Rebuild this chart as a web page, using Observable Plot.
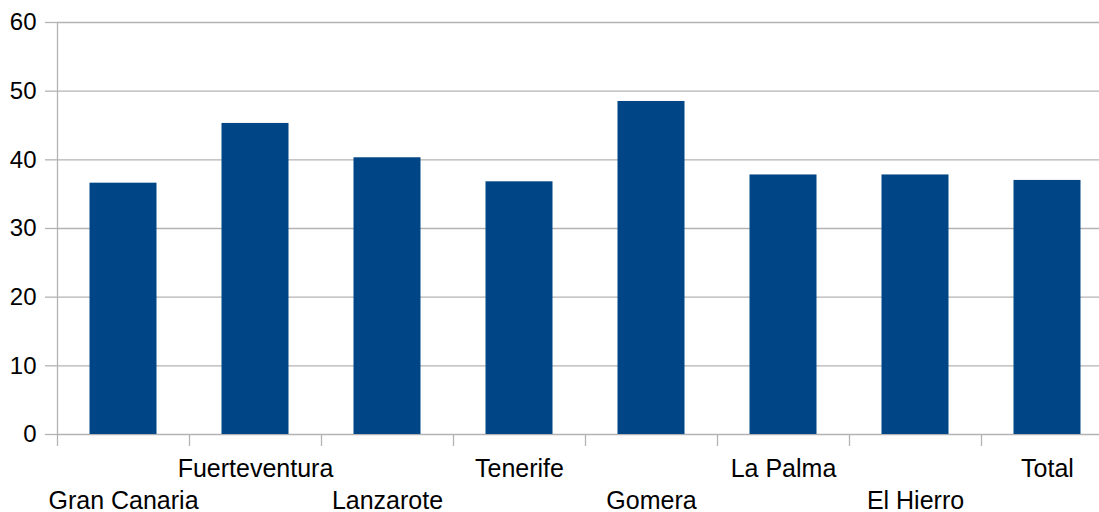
<!DOCTYPE html>
<html>
<head>
<meta charset="utf-8">
<script src="https://cdn.jsdelivr.net/npm/d3@7"></script>
<script src="https://cdn.jsdelivr.net/npm/@observablehq/plot@0.6"></script>
<style>
  html, body { margin: 0; padding: 0; background: #fff; }
  #chart svg { display: block; }
</style>
</head>
<body>
<div id="chart"></div>
<script>
const categories = ["Gran Canaria", "Fuerteventura", "Lanzarote", "Tenerife", "Gomera", "La Palma", "El Hierro", "Total"];
const values = [36.6, 45.3, 40.3, 36.8, 48.5, 37.8, 37.8, 37.0];
const yTicks = [0, 10, 20, 30, 40, 50, 60];

(function () {
  const data = categories.map((c, i) => ({category: c, value: values[i]}));

  const W = 1099, H = 512;
  const pLeft = 57, pRight = 1113, pTop = 22, pBottom = 434;
  const step = (pRight - pLeft) / categories.length;
  const barWidth = 67;
  const inset = (step - barWidth) / 2;
  const grid = "#b3b3b3";
  const font = "'Liberation Sans', Arial, sans-serif";

  const chart = Plot.plot({
    width: W,
    height: H,
    marginLeft: pLeft,
    marginRight: 0,
    marginTop: pTop,
    marginBottom: H - pBottom,
    style: {fontFamily: font, color: "#000", background: "#fff"},
    x: {type: "band", domain: categories, range: [pLeft, pRight], padding: 0},
    y: {domain: [0, 60], range: [pBottom, pTop]},
    marks: [
      Plot.gridY(yTicks, {stroke: grid, strokeOpacity: 1, strokeWidth: 1.3}),
      Plot.barY(data, {x: "category", y: "value", fill: "#004586", insetLeft: inset, insetRight: inset}),
      Plot.ruleX([categories[0]], {dx: -step / 2, y1: 0, y2: 60, stroke: grid, strokeWidth: 1.3}),
      Plot.axisY(yTicks, {tickSize: 12, tickPadding: 9, fontSize: 24, stroke: grid, strokeWidth: 1.3, fill: "#000", label: null}),
      Plot.axisX(categories, {tickSize: 12, tickFormat: () => "", dx: -step / 2, stroke: grid, strokeWidth: 1.3, label: null}),
      Plot.axisX(categories.filter((d, i) => i % 2 === 1), {tickSize: 0, tickPadding: 25, fontSize: 25, fill: "#000", label: null}),
      Plot.axisX(categories.filter((d, i) => i % 2 === 0), {tickSize: 0, tickPadding: 57, fontSize: 25, fill: "#000", label: null})
    ]
  });
  document.getElementById("chart").appendChild(chart);
})();
</script>
</body>
</html>
